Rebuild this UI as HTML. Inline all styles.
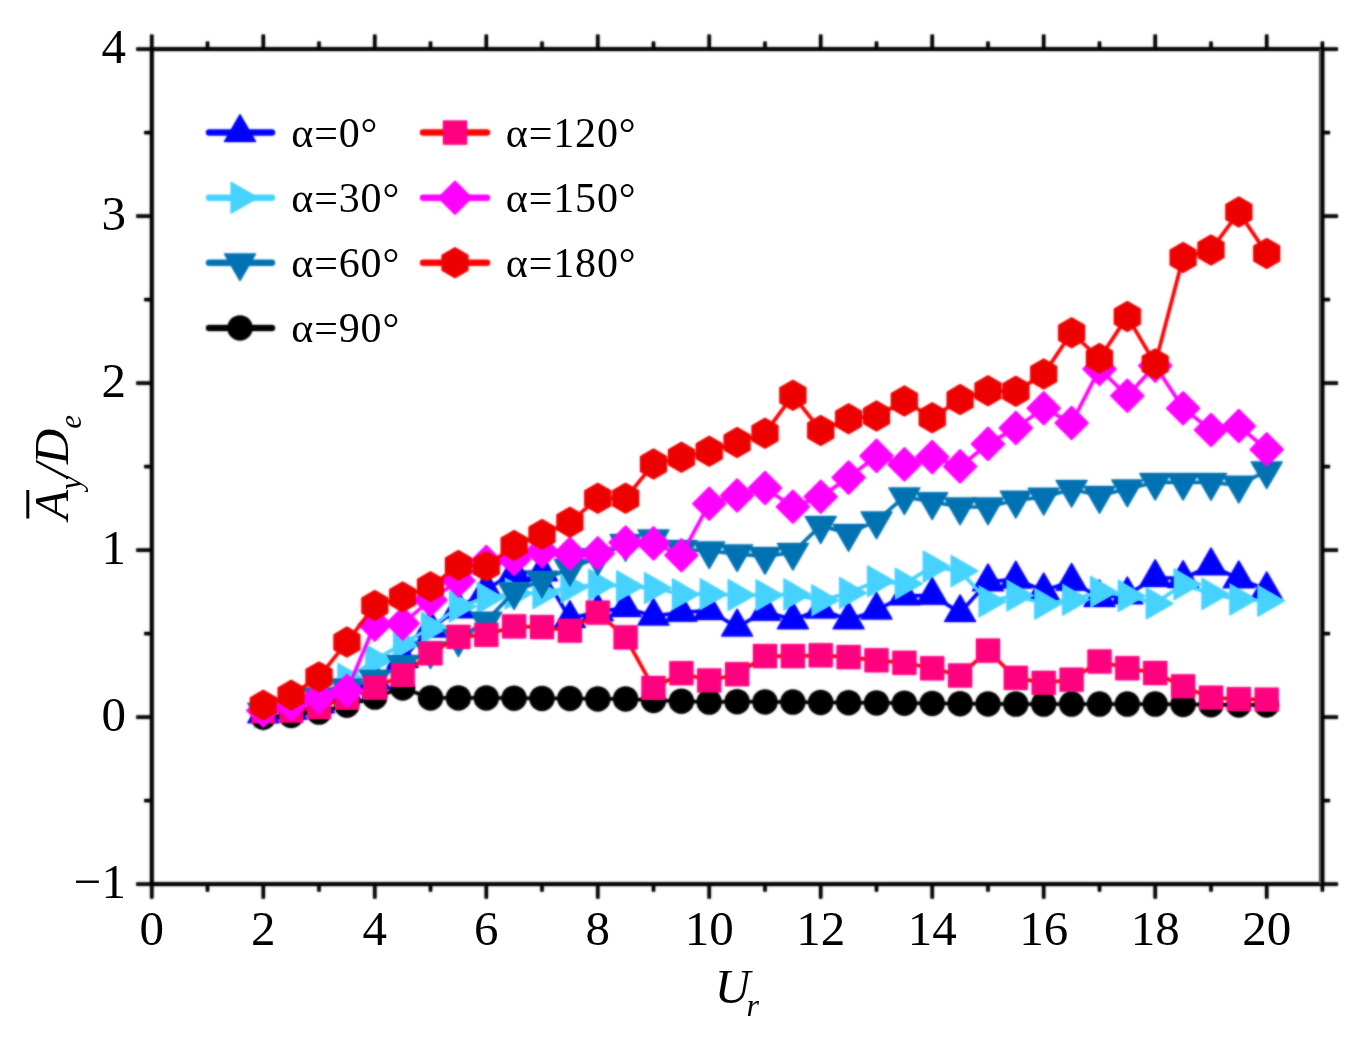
<!DOCTYPE html>
<html lang="en"><head><meta charset="utf-8"><title>Ay/De vs Ur</title>
<style>
html,body{margin:0;padding:0;background:#fff;}
body{width:1361px;height:1045px;overflow:hidden;}
svg{display:block;}
.soft{filter:blur(0.8px);}
</style></head><body>
<svg width="1361" height="1045" viewBox="0 0 1361 1045">
<rect width="1361" height="1045" fill="#fff"/>
<g class="soft">
<g>
<polyline points="263.3,713.8 291.2,710.4 319.0,703.7 346.9,693.7 374.8,680.4 402.7,658.6 430.5,628.1 458.4,608.9 486.3,589.3 514.1,572.6 542.0,571.8 569.9,618.6 597.8,611.9 625.6,607.7 653.5,616.2 681.4,612.4 709.2,610.7 737.1,627.1 765.0,611.4 792.9,619.9 820.7,609.2 848.6,619.9 876.5,610.2 904.4,595.9 932.2,595.4 960.1,612.7 988.0,581.8 1015.8,579.2 1043.7,590.8 1071.6,581.3 1099.5,597.7 1127.3,594.9 1155.2,577.7 1183.1,578.5 1211.0,565.8 1238.8,578.8 1266.7,589.8" fill="none" stroke="#0000FF" stroke-width="3.2" stroke-linejoin="round"/>
<polygon points="263.3,694.9 279.6,723.2 247.0,723.2" fill="#0000FF"/>
<polygon points="291.2,691.6 307.5,719.8 274.9,719.8" fill="#0000FF"/>
<polygon points="319.0,684.9 335.3,713.2 302.7,713.2" fill="#0000FF"/>
<polygon points="346.9,674.9 363.2,703.1 330.6,703.1" fill="#0000FF"/>
<polygon points="374.8,661.5 391.1,689.8 358.5,689.8" fill="#0000FF"/>
<polygon points="402.7,639.8 419.0,668.1 386.4,668.1" fill="#0000FF"/>
<polygon points="430.5,609.3 446.8,637.5 414.2,637.5" fill="#0000FF"/>
<polygon points="458.4,590.1 474.7,618.3 442.1,618.3" fill="#0000FF"/>
<polygon points="486.3,570.5 502.6,598.8 470.0,598.8" fill="#0000FF"/>
<polygon points="514.1,553.8 530.4,582.1 497.8,582.1" fill="#0000FF"/>
<polygon points="542.0,553.0 558.3,581.2 525.7,581.2" fill="#0000FF"/>
<polygon points="569.9,599.7 586.2,628.0 553.6,628.0" fill="#0000FF"/>
<polygon points="597.8,593.1 614.1,621.3 581.5,621.3" fill="#0000FF"/>
<polygon points="625.6,588.9 641.9,617.1 609.3,617.1" fill="#0000FF"/>
<polygon points="653.5,597.4 669.8,625.6 637.2,625.6" fill="#0000FF"/>
<polygon points="681.4,593.6 697.7,621.8 665.1,621.8" fill="#0000FF"/>
<polygon points="709.2,591.9 725.5,620.1 693.0,620.1" fill="#0000FF"/>
<polygon points="737.1,608.3 753.4,636.5 720.8,636.5" fill="#0000FF"/>
<polygon points="765.0,592.6 781.3,620.8 748.7,620.8" fill="#0000FF"/>
<polygon points="792.9,601.1 809.2,629.3 776.6,629.3" fill="#0000FF"/>
<polygon points="820.7,590.4 837.0,618.6 804.4,618.6" fill="#0000FF"/>
<polygon points="848.6,601.1 864.9,629.3 832.3,629.3" fill="#0000FF"/>
<polygon points="876.5,591.4 892.8,619.6 860.2,619.6" fill="#0000FF"/>
<polygon points="904.4,577.0 920.7,605.3 888.1,605.3" fill="#0000FF"/>
<polygon points="932.2,576.5 948.5,604.8 915.9,604.8" fill="#0000FF"/>
<polygon points="960.1,593.9 976.4,622.1 943.8,622.1" fill="#0000FF"/>
<polygon points="988.0,563.0 1004.3,591.2 971.7,591.2" fill="#0000FF"/>
<polygon points="1015.8,560.3 1032.1,588.6 999.5,588.6" fill="#0000FF"/>
<polygon points="1043.7,572.0 1060.0,600.3 1027.4,600.3" fill="#0000FF"/>
<polygon points="1071.6,562.5 1087.9,590.7 1055.3,590.7" fill="#0000FF"/>
<polygon points="1099.5,578.9 1115.8,607.1 1083.2,607.1" fill="#0000FF"/>
<polygon points="1127.3,576.0 1143.6,604.3 1111.0,604.3" fill="#0000FF"/>
<polygon points="1155.2,558.8 1171.5,587.1 1138.9,587.1" fill="#0000FF"/>
<polygon points="1183.1,559.7 1199.4,587.9 1166.8,587.9" fill="#0000FF"/>
<polygon points="1211.0,547.0 1227.3,575.2 1194.7,575.2" fill="#0000FF"/>
<polygon points="1238.8,560.0 1255.1,588.2 1222.5,588.2" fill="#0000FF"/>
<polygon points="1266.7,571.0 1283.0,599.3 1250.4,599.3" fill="#0000FF"/>
</g>
<g>
<polyline points="263.3,712.1 291.2,707.1 319.0,695.4 346.9,679.0 374.8,660.3 402.7,643.6 430.5,627.8 458.4,606.5 486.3,597.7 514.1,593.5 542.0,593.2 569.9,587.3 597.8,584.7 625.6,586.3 653.5,588.0 681.4,594.2 709.2,594.2 737.1,595.0 765.0,595.2 792.9,594.4 820.7,600.4 848.6,593.0 876.5,581.2 904.4,583.8 932.2,566.6 960.1,571.1 988.0,601.4 1015.8,595.5 1043.7,603.7 1071.6,599.7 1099.5,591.9 1127.3,595.9 1155.2,603.4 1183.1,584.3 1211.0,593.9 1238.8,599.4 1266.7,600.7" fill="none" stroke="#46D2FF" stroke-width="3.2" stroke-linejoin="round"/>
<polygon points="282.1,712.1 253.9,695.8 253.9,728.4" fill="#46D2FF"/>
<polygon points="310.0,707.1 281.8,690.8 281.8,723.4" fill="#46D2FF"/>
<polygon points="337.9,695.4 309.6,679.1 309.6,711.7" fill="#46D2FF"/>
<polygon points="365.7,679.0 337.5,662.7 337.5,695.3" fill="#46D2FF"/>
<polygon points="393.6,660.3 365.4,644.0 365.4,676.6" fill="#46D2FF"/>
<polygon points="421.5,643.6 393.2,627.3 393.2,659.9" fill="#46D2FF"/>
<polygon points="449.3,627.8 421.1,611.5 421.1,644.1" fill="#46D2FF"/>
<polygon points="477.2,606.5 449.0,590.2 449.0,622.8" fill="#46D2FF"/>
<polygon points="505.1,597.7 476.9,581.4 476.9,614.0" fill="#46D2FF"/>
<polygon points="533.0,593.5 504.7,577.2 504.7,609.8" fill="#46D2FF"/>
<polygon points="560.8,593.2 532.6,576.9 532.6,609.5" fill="#46D2FF"/>
<polygon points="588.7,587.3 560.5,571.0 560.5,603.6" fill="#46D2FF"/>
<polygon points="616.6,584.7 588.3,568.4 588.3,601.0" fill="#46D2FF"/>
<polygon points="644.5,586.3 616.2,570.0 616.2,602.6" fill="#46D2FF"/>
<polygon points="672.3,588.0 644.1,571.7 644.1,604.3" fill="#46D2FF"/>
<polygon points="700.2,594.2 672.0,577.9 672.0,610.5" fill="#46D2FF"/>
<polygon points="728.1,594.2 699.8,577.9 699.8,610.5" fill="#46D2FF"/>
<polygon points="755.9,595.0 727.7,578.7 727.7,611.3" fill="#46D2FF"/>
<polygon points="783.8,595.2 755.6,578.9 755.6,611.5" fill="#46D2FF"/>
<polygon points="811.7,594.4 783.5,578.1 783.5,610.7" fill="#46D2FF"/>
<polygon points="839.6,600.4 811.3,584.1 811.3,616.7" fill="#46D2FF"/>
<polygon points="867.4,593.0 839.2,576.7 839.2,609.3" fill="#46D2FF"/>
<polygon points="895.3,581.2 867.1,564.9 867.1,597.5" fill="#46D2FF"/>
<polygon points="923.2,583.8 894.9,567.5 894.9,600.1" fill="#46D2FF"/>
<polygon points="951.1,566.6 922.8,550.3 922.8,582.9" fill="#46D2FF"/>
<polygon points="978.9,571.1 950.7,554.8 950.7,587.4" fill="#46D2FF"/>
<polygon points="1006.8,601.4 978.6,585.1 978.6,617.7" fill="#46D2FF"/>
<polygon points="1034.7,595.5 1006.4,579.2 1006.4,611.8" fill="#46D2FF"/>
<polygon points="1062.5,603.7 1034.3,587.4 1034.3,620.0" fill="#46D2FF"/>
<polygon points="1090.4,599.7 1062.2,583.4 1062.2,616.0" fill="#46D2FF"/>
<polygon points="1118.3,591.9 1090.1,575.6 1090.1,608.1" fill="#46D2FF"/>
<polygon points="1146.2,595.9 1117.9,579.6 1117.9,612.2" fill="#46D2FF"/>
<polygon points="1174.0,603.4 1145.8,587.1 1145.8,619.7" fill="#46D2FF"/>
<polygon points="1201.9,584.3 1173.7,568.0 1173.7,600.6" fill="#46D2FF"/>
<polygon points="1229.8,593.9 1201.5,577.6 1201.5,610.2" fill="#46D2FF"/>
<polygon points="1257.6,599.4 1229.4,583.1 1229.4,615.7" fill="#46D2FF"/>
<polygon points="1285.5,600.7 1257.3,584.4 1257.3,617.0" fill="#46D2FF"/>
</g>
<g>
<polyline points="263.3,712.1 291.2,707.1 319.0,697.1 346.9,687.9 374.8,679.2 402.7,664.5 430.5,650.8 458.4,638.6 486.3,621.2 514.1,591.7 542.0,580.2 569.9,568.5 597.8,557.6 625.6,543.4 653.5,538.9 681.4,549.3 709.2,550.8 737.1,553.8 765.0,556.4 792.9,552.3 820.7,525.6 848.6,533.4 876.5,520.9 904.4,496.8 932.2,501.7 960.1,507.0 988.0,506.8 1015.8,500.2 1043.7,497.2 1071.6,489.3 1099.5,495.5 1127.3,489.0 1155.2,482.3 1183.1,482.3 1211.0,482.5 1238.8,485.1 1266.7,470.8" fill="none" stroke="#0072B2" stroke-width="3.2" stroke-linejoin="round"/>
<polygon points="263.3,730.9 279.6,702.7 247.0,702.7" fill="#0072B2"/>
<polygon points="291.2,725.9 307.5,697.7 274.9,697.7" fill="#0072B2"/>
<polygon points="319.0,715.9 335.3,687.6 302.7,687.6" fill="#0072B2"/>
<polygon points="346.9,706.7 363.2,678.5 330.6,678.5" fill="#0072B2"/>
<polygon points="374.8,698.0 391.1,669.8 358.5,669.8" fill="#0072B2"/>
<polygon points="402.7,683.3 419.0,655.1 386.4,655.1" fill="#0072B2"/>
<polygon points="430.5,669.6 446.8,641.4 414.2,641.4" fill="#0072B2"/>
<polygon points="458.4,657.4 474.7,629.2 442.1,629.2" fill="#0072B2"/>
<polygon points="486.3,640.1 502.6,611.8 470.0,611.8" fill="#0072B2"/>
<polygon points="514.1,610.5 530.4,582.3 497.8,582.3" fill="#0072B2"/>
<polygon points="542.0,599.0 558.3,570.7 525.7,570.7" fill="#0072B2"/>
<polygon points="569.9,587.3 586.2,559.1 553.6,559.1" fill="#0072B2"/>
<polygon points="597.8,576.4 614.1,548.2 581.5,548.2" fill="#0072B2"/>
<polygon points="625.6,562.2 641.9,534.0 609.3,534.0" fill="#0072B2"/>
<polygon points="653.5,557.7 669.8,529.5 637.2,529.5" fill="#0072B2"/>
<polygon points="681.4,568.1 697.7,539.9 665.1,539.9" fill="#0072B2"/>
<polygon points="709.2,569.6 725.5,541.4 693.0,541.4" fill="#0072B2"/>
<polygon points="737.1,572.6 753.4,544.4 720.8,544.4" fill="#0072B2"/>
<polygon points="765.0,575.3 781.3,547.0 748.7,547.0" fill="#0072B2"/>
<polygon points="792.9,571.1 809.2,542.9 776.6,542.9" fill="#0072B2"/>
<polygon points="820.7,544.4 837.0,516.1 804.4,516.1" fill="#0072B2"/>
<polygon points="848.6,552.2 864.9,524.0 832.3,524.0" fill="#0072B2"/>
<polygon points="876.5,539.7 892.8,511.5 860.2,511.5" fill="#0072B2"/>
<polygon points="904.4,515.6 920.7,487.4 888.1,487.4" fill="#0072B2"/>
<polygon points="932.2,520.5 948.5,492.3 915.9,492.3" fill="#0072B2"/>
<polygon points="960.1,525.8 976.4,497.6 943.8,497.6" fill="#0072B2"/>
<polygon points="988.0,525.7 1004.3,497.4 971.7,497.4" fill="#0072B2"/>
<polygon points="1015.8,519.0 1032.1,490.8 999.5,490.8" fill="#0072B2"/>
<polygon points="1043.7,516.0 1060.0,487.8 1027.4,487.8" fill="#0072B2"/>
<polygon points="1071.6,508.1 1087.9,479.9 1055.3,479.9" fill="#0072B2"/>
<polygon points="1099.5,514.3 1115.8,486.1 1083.2,486.1" fill="#0072B2"/>
<polygon points="1127.3,507.8 1143.6,479.6 1111.0,479.6" fill="#0072B2"/>
<polygon points="1155.2,501.1 1171.5,472.9 1138.9,472.9" fill="#0072B2"/>
<polygon points="1183.1,501.1 1199.4,472.9 1166.8,472.9" fill="#0072B2"/>
<polygon points="1211.0,501.3 1227.3,473.1 1194.7,473.1" fill="#0072B2"/>
<polygon points="1238.8,504.0 1255.1,475.7 1222.5,475.7" fill="#0072B2"/>
<polygon points="1266.7,489.6 1283.0,461.4 1250.4,461.4" fill="#0072B2"/>
</g>
<g>
<polyline points="263.3,717.1 291.2,715.4 319.0,712.1 346.9,705.2 374.8,697.1 402.7,688.0 430.5,697.9 458.4,697.9 486.3,697.9 514.1,698.2 542.0,698.4 569.9,698.4 597.8,698.9 625.6,698.9 653.5,700.4 681.4,701.2 709.2,702.1 737.1,701.7 765.0,701.9 792.9,702.1 820.7,702.4 848.6,702.7 876.5,702.9 904.4,703.2 932.2,703.4 960.1,703.7 988.0,703.9 1015.8,704.1 1043.7,704.1 1071.6,704.1 1099.5,704.1 1127.3,704.1 1155.2,704.1 1183.1,704.4 1211.0,704.7 1238.8,704.9 1266.7,704.9" fill="none" stroke="#000000" stroke-width="3.2" stroke-linejoin="round"/>
<circle cx="263.3" cy="717.1" r="12.5" fill="#000000"/>
<circle cx="291.2" cy="715.4" r="12.5" fill="#000000"/>
<circle cx="319.0" cy="712.1" r="12.5" fill="#000000"/>
<circle cx="346.9" cy="705.2" r="12.5" fill="#000000"/>
<circle cx="374.8" cy="697.1" r="12.5" fill="#000000"/>
<circle cx="402.7" cy="688.0" r="12.5" fill="#000000"/>
<circle cx="430.5" cy="697.9" r="12.5" fill="#000000"/>
<circle cx="458.4" cy="697.9" r="12.5" fill="#000000"/>
<circle cx="486.3" cy="697.9" r="12.5" fill="#000000"/>
<circle cx="514.1" cy="698.2" r="12.5" fill="#000000"/>
<circle cx="542.0" cy="698.4" r="12.5" fill="#000000"/>
<circle cx="569.9" cy="698.4" r="12.5" fill="#000000"/>
<circle cx="597.8" cy="698.9" r="12.5" fill="#000000"/>
<circle cx="625.6" cy="698.9" r="12.5" fill="#000000"/>
<circle cx="653.5" cy="700.4" r="12.5" fill="#000000"/>
<circle cx="681.4" cy="701.2" r="12.5" fill="#000000"/>
<circle cx="709.2" cy="702.1" r="12.5" fill="#000000"/>
<circle cx="737.1" cy="701.7" r="12.5" fill="#000000"/>
<circle cx="765.0" cy="701.9" r="12.5" fill="#000000"/>
<circle cx="792.9" cy="702.1" r="12.5" fill="#000000"/>
<circle cx="820.7" cy="702.4" r="12.5" fill="#000000"/>
<circle cx="848.6" cy="702.7" r="12.5" fill="#000000"/>
<circle cx="876.5" cy="702.9" r="12.5" fill="#000000"/>
<circle cx="904.4" cy="703.2" r="12.5" fill="#000000"/>
<circle cx="932.2" cy="703.4" r="12.5" fill="#000000"/>
<circle cx="960.1" cy="703.7" r="12.5" fill="#000000"/>
<circle cx="988.0" cy="703.9" r="12.5" fill="#000000"/>
<circle cx="1015.8" cy="704.1" r="12.5" fill="#000000"/>
<circle cx="1043.7" cy="704.1" r="12.5" fill="#000000"/>
<circle cx="1071.6" cy="704.1" r="12.5" fill="#000000"/>
<circle cx="1099.5" cy="704.1" r="12.5" fill="#000000"/>
<circle cx="1127.3" cy="704.1" r="12.5" fill="#000000"/>
<circle cx="1155.2" cy="704.1" r="12.5" fill="#000000"/>
<circle cx="1183.1" cy="704.4" r="12.5" fill="#000000"/>
<circle cx="1211.0" cy="704.7" r="12.5" fill="#000000"/>
<circle cx="1238.8" cy="704.9" r="12.5" fill="#000000"/>
<circle cx="1266.7" cy="704.9" r="12.5" fill="#000000"/>
</g>
<g>
<polyline points="263.3,711.6 291.2,710.8 319.0,707.2 346.9,697.9 374.8,687.9 402.7,675.0 430.5,653.3 458.4,636.9 486.3,634.8 514.1,626.4 542.0,627.1 569.9,630.6 597.8,612.6 625.6,637.4 653.5,688.0 681.4,673.2 709.2,680.5 737.1,674.2 765.0,656.1 792.9,656.1 820.7,655.3 848.6,657.1 876.5,660.3 904.4,662.8 932.2,668.3 960.1,675.5 988.0,650.6 1015.8,677.9 1043.7,682.9 1071.6,679.7 1099.5,661.5 1127.3,668.2 1155.2,673.0 1183.1,686.4 1211.0,697.7 1238.8,699.2 1266.7,699.7" fill="none" stroke="#FF0000" stroke-width="3.2" stroke-linejoin="round"/>
<rect x="251.3" y="699.6" width="24" height="24" fill="#FF007F"/>
<rect x="279.2" y="698.8" width="24" height="24" fill="#FF007F"/>
<rect x="307.0" y="695.2" width="24" height="24" fill="#FF007F"/>
<rect x="334.9" y="685.9" width="24" height="24" fill="#FF007F"/>
<rect x="362.8" y="675.9" width="24" height="24" fill="#FF007F"/>
<rect x="390.7" y="663.0" width="24" height="24" fill="#FF007F"/>
<rect x="418.5" y="641.3" width="24" height="24" fill="#FF007F"/>
<rect x="446.4" y="624.9" width="24" height="24" fill="#FF007F"/>
<rect x="474.3" y="622.8" width="24" height="24" fill="#FF007F"/>
<rect x="502.1" y="614.4" width="24" height="24" fill="#FF007F"/>
<rect x="530.0" y="615.1" width="24" height="24" fill="#FF007F"/>
<rect x="557.9" y="618.6" width="24" height="24" fill="#FF007F"/>
<rect x="585.8" y="600.6" width="24" height="24" fill="#FF007F"/>
<rect x="613.6" y="625.4" width="24" height="24" fill="#FF007F"/>
<rect x="641.5" y="676.0" width="24" height="24" fill="#FF007F"/>
<rect x="669.4" y="661.2" width="24" height="24" fill="#FF007F"/>
<rect x="697.2" y="668.5" width="24" height="24" fill="#FF007F"/>
<rect x="725.1" y="662.2" width="24" height="24" fill="#FF007F"/>
<rect x="753.0" y="644.1" width="24" height="24" fill="#FF007F"/>
<rect x="780.9" y="644.1" width="24" height="24" fill="#FF007F"/>
<rect x="808.7" y="643.3" width="24" height="24" fill="#FF007F"/>
<rect x="836.6" y="645.1" width="24" height="24" fill="#FF007F"/>
<rect x="864.5" y="648.3" width="24" height="24" fill="#FF007F"/>
<rect x="892.4" y="650.8" width="24" height="24" fill="#FF007F"/>
<rect x="920.2" y="656.3" width="24" height="24" fill="#FF007F"/>
<rect x="948.1" y="663.5" width="24" height="24" fill="#FF007F"/>
<rect x="976.0" y="638.6" width="24" height="24" fill="#FF007F"/>
<rect x="1003.8" y="665.9" width="24" height="24" fill="#FF007F"/>
<rect x="1031.7" y="670.9" width="24" height="24" fill="#FF007F"/>
<rect x="1059.6" y="667.7" width="24" height="24" fill="#FF007F"/>
<rect x="1087.5" y="649.5" width="24" height="24" fill="#FF007F"/>
<rect x="1115.3" y="656.2" width="24" height="24" fill="#FF007F"/>
<rect x="1143.2" y="661.0" width="24" height="24" fill="#FF007F"/>
<rect x="1171.1" y="674.4" width="24" height="24" fill="#FF007F"/>
<rect x="1199.0" y="685.7" width="24" height="24" fill="#FF007F"/>
<rect x="1226.8" y="687.2" width="24" height="24" fill="#FF007F"/>
<rect x="1254.7" y="687.7" width="24" height="24" fill="#FF007F"/>
</g>
<g>
<polyline points="263.3,710.6 291.2,704.2 319.0,697.1 346.9,690.7 374.8,624.6 402.7,623.6 430.5,599.9 458.4,580.8 486.3,562.1 514.1,559.3 542.0,551.4 569.9,553.9 597.8,553.4 625.6,542.6 653.5,543.4 681.4,555.3 709.2,503.7 737.1,495.5 765.0,488.0 792.9,506.8 820.7,496.7 848.6,477.6 876.5,455.9 904.4,464.4 932.2,457.1 960.1,466.4 988.0,443.9 1015.8,428.0 1043.7,408.2 1071.6,423.0 1099.5,368.9 1127.3,395.8 1155.2,365.7 1183.1,408.2 1211.0,430.0 1238.8,426.0 1266.7,449.4" fill="none" stroke="#FF00FF" stroke-width="3.2" stroke-linejoin="round"/>
<polygon points="263.3,693.3 280.6,710.6 263.3,727.9 246.0,710.6" fill="#FF00FF"/>
<polygon points="291.2,686.9 308.5,704.2 291.2,721.5 273.9,704.2" fill="#FF00FF"/>
<polygon points="319.0,679.8 336.3,697.1 319.0,714.4 301.7,697.1" fill="#FF00FF"/>
<polygon points="346.9,673.4 364.2,690.7 346.9,708.0 329.6,690.7" fill="#FF00FF"/>
<polygon points="374.8,607.3 392.1,624.6 374.8,641.9 357.5,624.6" fill="#FF00FF"/>
<polygon points="402.7,606.3 420.0,623.6 402.7,640.9 385.4,623.6" fill="#FF00FF"/>
<polygon points="430.5,582.6 447.8,599.9 430.5,617.2 413.2,599.9" fill="#FF00FF"/>
<polygon points="458.4,563.5 475.7,580.8 458.4,598.1 441.1,580.8" fill="#FF00FF"/>
<polygon points="486.3,544.8 503.6,562.1 486.3,579.4 469.0,562.1" fill="#FF00FF"/>
<polygon points="514.1,542.0 531.4,559.3 514.1,576.6 496.8,559.3" fill="#FF00FF"/>
<polygon points="542.0,534.1 559.3,551.4 542.0,568.7 524.7,551.4" fill="#FF00FF"/>
<polygon points="569.9,536.6 587.2,553.9 569.9,571.2 552.6,553.9" fill="#FF00FF"/>
<polygon points="597.8,536.1 615.1,553.4 597.8,570.7 580.5,553.4" fill="#FF00FF"/>
<polygon points="625.6,525.3 642.9,542.6 625.6,559.9 608.3,542.6" fill="#FF00FF"/>
<polygon points="653.5,526.1 670.8,543.4 653.5,560.7 636.2,543.4" fill="#FF00FF"/>
<polygon points="681.4,538.0 698.7,555.3 681.4,572.6 664.1,555.3" fill="#FF00FF"/>
<polygon points="709.2,486.4 726.5,503.7 709.2,521.0 692.0,503.7" fill="#FF00FF"/>
<polygon points="737.1,478.2 754.4,495.5 737.1,512.8 719.8,495.5" fill="#FF00FF"/>
<polygon points="765.0,470.7 782.3,488.0 765.0,505.3 747.7,488.0" fill="#FF00FF"/>
<polygon points="792.9,489.5 810.2,506.8 792.9,524.1 775.6,506.8" fill="#FF00FF"/>
<polygon points="820.7,479.4 838.0,496.7 820.7,514.0 803.4,496.7" fill="#FF00FF"/>
<polygon points="848.6,460.3 865.9,477.6 848.6,494.9 831.3,477.6" fill="#FF00FF"/>
<polygon points="876.5,438.6 893.8,455.9 876.5,473.2 859.2,455.9" fill="#FF00FF"/>
<polygon points="904.4,447.1 921.7,464.4 904.4,481.7 887.1,464.4" fill="#FF00FF"/>
<polygon points="932.2,439.8 949.5,457.1 932.2,474.4 914.9,457.1" fill="#FF00FF"/>
<polygon points="960.1,449.1 977.4,466.4 960.1,483.7 942.8,466.4" fill="#FF00FF"/>
<polygon points="988.0,426.6 1005.3,443.9 988.0,461.2 970.7,443.9" fill="#FF00FF"/>
<polygon points="1015.8,410.7 1033.1,428.0 1015.8,445.3 998.5,428.0" fill="#FF00FF"/>
<polygon points="1043.7,390.9 1061.0,408.2 1043.7,425.5 1026.4,408.2" fill="#FF00FF"/>
<polygon points="1071.6,405.7 1088.9,423.0 1071.6,440.3 1054.3,423.0" fill="#FF00FF"/>
<polygon points="1099.5,351.6 1116.8,368.9 1099.5,386.2 1082.2,368.9" fill="#FF00FF"/>
<polygon points="1127.3,378.5 1144.6,395.8 1127.3,413.1 1110.0,395.8" fill="#FF00FF"/>
<polygon points="1155.2,348.4 1172.5,365.7 1155.2,383.0 1137.9,365.7" fill="#FF00FF"/>
<polygon points="1183.1,390.9 1200.4,408.2 1183.1,425.5 1165.8,408.2" fill="#FF00FF"/>
<polygon points="1211.0,412.7 1228.3,430.0 1211.0,447.3 1193.7,430.0" fill="#FF00FF"/>
<polygon points="1238.8,408.7 1256.1,426.0 1238.8,443.3 1221.5,426.0" fill="#FF00FF"/>
<polygon points="1266.7,432.1 1284.0,449.4 1266.7,466.7 1249.4,449.4" fill="#FF00FF"/>
</g>
<g>
<polyline points="263.3,705.2 291.2,695.2 319.0,676.9 346.9,642.1 374.8,605.5 402.7,597.0 430.5,586.8 458.4,565.5 486.3,566.3 514.1,545.6 542.0,534.4 569.9,522.2 597.8,498.3 625.6,498.2 653.5,464.1 681.4,457.2 709.2,451.2 737.1,442.6 765.0,433.2 792.9,395.3 820.7,430.5 848.6,418.7 876.5,416.0 904.4,401.0 932.2,417.7 960.1,399.6 988.0,390.8 1015.8,391.3 1043.7,374.1 1071.6,332.7 1099.5,358.6 1127.3,316.5 1155.2,363.9 1183.1,257.5 1211.0,250.0 1238.8,212.1 1266.7,253.5" fill="none" stroke="#FF0000" stroke-width="3.2" stroke-linejoin="round"/>
<polygon points="263.3,689.7 276.7,697.5 276.7,713.0 263.3,720.7 249.9,713.0 249.9,697.5" fill="#EE0000"/>
<polygon points="291.2,679.7 304.6,687.5 304.6,703.0 291.2,710.7 277.7,703.0 277.7,687.5" fill="#EE0000"/>
<polygon points="319.0,661.4 332.5,669.1 332.5,684.6 319.0,692.4 305.6,684.6 305.6,669.1" fill="#EE0000"/>
<polygon points="346.9,626.6 360.3,634.4 360.3,649.9 346.9,657.6 333.5,649.9 333.5,634.4" fill="#EE0000"/>
<polygon points="374.8,590.0 388.2,597.8 388.2,613.3 374.8,621.0 361.4,613.3 361.4,597.8" fill="#EE0000"/>
<polygon points="402.7,581.5 416.1,589.3 416.1,604.8 402.7,612.5 389.2,604.8 389.2,589.3" fill="#EE0000"/>
<polygon points="430.5,571.3 443.9,579.1 443.9,594.6 430.5,602.3 417.1,594.6 417.1,579.1" fill="#EE0000"/>
<polygon points="458.4,550.0 471.8,557.7 471.8,573.2 458.4,581.0 445.0,573.2 445.0,557.7" fill="#EE0000"/>
<polygon points="486.3,550.8 499.7,558.5 499.7,574.0 486.3,581.8 472.8,574.0 472.8,558.5" fill="#EE0000"/>
<polygon points="514.1,530.1 527.6,537.8 527.6,553.3 514.1,561.1 500.7,553.3 500.7,537.8" fill="#EE0000"/>
<polygon points="542.0,518.9 555.4,526.7 555.4,542.2 542.0,549.9 528.6,542.2 528.6,526.7" fill="#EE0000"/>
<polygon points="569.9,506.7 583.3,514.5 583.3,530.0 569.9,537.7 556.5,530.0 556.5,514.5" fill="#EE0000"/>
<polygon points="597.8,482.8 611.2,490.6 611.2,506.1 597.8,513.8 584.3,506.1 584.3,490.6" fill="#EE0000"/>
<polygon points="625.6,482.7 639.1,490.4 639.1,505.9 625.6,513.7 612.2,505.9 612.2,490.4" fill="#EE0000"/>
<polygon points="653.5,448.6 666.9,456.3 666.9,471.8 653.5,479.6 640.1,471.8 640.1,456.3" fill="#EE0000"/>
<polygon points="681.4,441.7 694.8,449.5 694.8,465.0 681.4,472.7 668.0,465.0 668.0,449.5" fill="#EE0000"/>
<polygon points="709.2,435.7 722.7,443.5 722.7,459.0 709.2,466.7 695.8,459.0 695.8,443.5" fill="#EE0000"/>
<polygon points="737.1,427.1 750.5,434.8 750.5,450.3 737.1,458.1 723.7,450.3 723.7,434.8" fill="#EE0000"/>
<polygon points="765.0,417.7 778.4,425.5 778.4,441.0 765.0,448.7 751.6,441.0 751.6,425.5" fill="#EE0000"/>
<polygon points="792.9,379.8 806.3,387.5 806.3,403.0 792.9,410.8 779.4,403.0 779.4,387.5" fill="#EE0000"/>
<polygon points="820.7,415.0 834.2,422.8 834.2,438.3 820.7,446.0 807.3,438.3 807.3,422.8" fill="#EE0000"/>
<polygon points="848.6,403.2 862.0,410.9 862.0,426.4 848.6,434.2 835.2,426.4 835.2,410.9" fill="#EE0000"/>
<polygon points="876.5,400.5 889.9,408.2 889.9,423.7 876.5,431.5 863.1,423.7 863.1,408.2" fill="#EE0000"/>
<polygon points="904.4,385.5 917.8,393.2 917.8,408.7 904.4,416.5 890.9,408.7 890.9,393.2" fill="#EE0000"/>
<polygon points="932.2,402.2 945.7,409.9 945.7,425.4 932.2,433.2 918.8,425.4 918.8,409.9" fill="#EE0000"/>
<polygon points="960.1,384.1 973.5,391.9 973.5,407.4 960.1,415.1 946.7,407.4 946.7,391.9" fill="#EE0000"/>
<polygon points="988.0,375.3 1001.4,383.0 1001.4,398.5 988.0,406.3 974.6,398.5 974.6,383.0" fill="#EE0000"/>
<polygon points="1015.8,375.8 1029.3,383.5 1029.3,399.0 1015.8,406.8 1002.4,399.0 1002.4,383.5" fill="#EE0000"/>
<polygon points="1043.7,358.6 1057.1,366.3 1057.1,381.8 1043.7,389.6 1030.3,381.8 1030.3,366.3" fill="#EE0000"/>
<polygon points="1071.6,317.2 1085.0,324.9 1085.0,340.4 1071.6,348.2 1058.2,340.4 1058.2,324.9" fill="#EE0000"/>
<polygon points="1099.5,343.1 1112.9,350.8 1112.9,366.3 1099.5,374.1 1086.0,366.3 1086.0,350.8" fill="#EE0000"/>
<polygon points="1127.3,301.0 1140.8,308.7 1140.8,324.2 1127.3,332.0 1113.9,324.2 1113.9,308.7" fill="#EE0000"/>
<polygon points="1155.2,348.4 1168.6,356.1 1168.6,371.6 1155.2,379.4 1141.8,371.6 1141.8,356.1" fill="#EE0000"/>
<polygon points="1183.1,242.0 1196.5,249.8 1196.5,265.3 1183.1,273.0 1169.7,265.3 1169.7,249.8" fill="#EE0000"/>
<polygon points="1211.0,234.5 1224.4,242.3 1224.4,257.8 1211.0,265.5 1197.5,257.8 1197.5,242.3" fill="#EE0000"/>
<polygon points="1238.8,196.6 1252.3,204.3 1252.3,219.8 1238.8,227.6 1225.4,219.8 1225.4,204.3" fill="#EE0000"/>
<polygon points="1266.7,238.0 1280.1,245.8 1280.1,261.3 1266.7,269.0 1253.3,261.3 1253.3,245.8" fill="#EE0000"/>
</g>
<g stroke="#000" stroke-linecap="butt" fill="none">
<rect x="151.8" y="49.1" width="1170.6" height="835.0" stroke-width="3.7"/>
<line x1="1320.2" y1="49.1" x2="1320.2" y2="884.1" stroke="#4d4d4d" stroke-width="2"/>
<line x1="151.8" y1="884.1" x2="151.8" y2="898.6" stroke-width="3.3"/>
<line x1="151.8" y1="49.1" x2="151.8" y2="34.6" stroke-width="3.3"/>
<line x1="207.5" y1="884.1" x2="207.5" y2="891.6" stroke-width="3.3"/>
<line x1="207.5" y1="49.1" x2="207.5" y2="41.6" stroke-width="3.3"/>
<line x1="263.3" y1="884.1" x2="263.3" y2="898.6" stroke-width="3.3"/>
<line x1="263.3" y1="49.1" x2="263.3" y2="34.6" stroke-width="3.3"/>
<line x1="319.0" y1="884.1" x2="319.0" y2="891.6" stroke-width="3.3"/>
<line x1="319.0" y1="49.1" x2="319.0" y2="41.6" stroke-width="3.3"/>
<line x1="374.8" y1="884.1" x2="374.8" y2="898.6" stroke-width="3.3"/>
<line x1="374.8" y1="49.1" x2="374.8" y2="34.6" stroke-width="3.3"/>
<line x1="430.5" y1="884.1" x2="430.5" y2="891.6" stroke-width="3.3"/>
<line x1="430.5" y1="49.1" x2="430.5" y2="41.6" stroke-width="3.3"/>
<line x1="486.3" y1="884.1" x2="486.3" y2="898.6" stroke-width="3.3"/>
<line x1="486.3" y1="49.1" x2="486.3" y2="34.6" stroke-width="3.3"/>
<line x1="542.0" y1="884.1" x2="542.0" y2="891.6" stroke-width="3.3"/>
<line x1="542.0" y1="49.1" x2="542.0" y2="41.6" stroke-width="3.3"/>
<line x1="597.8" y1="884.1" x2="597.8" y2="898.6" stroke-width="3.3"/>
<line x1="597.8" y1="49.1" x2="597.8" y2="34.6" stroke-width="3.3"/>
<line x1="653.5" y1="884.1" x2="653.5" y2="891.6" stroke-width="3.3"/>
<line x1="653.5" y1="49.1" x2="653.5" y2="41.6" stroke-width="3.3"/>
<line x1="709.2" y1="884.1" x2="709.2" y2="898.6" stroke-width="3.3"/>
<line x1="709.2" y1="49.1" x2="709.2" y2="34.6" stroke-width="3.3"/>
<line x1="765.0" y1="884.1" x2="765.0" y2="891.6" stroke-width="3.3"/>
<line x1="765.0" y1="49.1" x2="765.0" y2="41.6" stroke-width="3.3"/>
<line x1="820.7" y1="884.1" x2="820.7" y2="898.6" stroke-width="3.3"/>
<line x1="820.7" y1="49.1" x2="820.7" y2="34.6" stroke-width="3.3"/>
<line x1="876.5" y1="884.1" x2="876.5" y2="891.6" stroke-width="3.3"/>
<line x1="876.5" y1="49.1" x2="876.5" y2="41.6" stroke-width="3.3"/>
<line x1="932.2" y1="884.1" x2="932.2" y2="898.6" stroke-width="3.3"/>
<line x1="932.2" y1="49.1" x2="932.2" y2="34.6" stroke-width="3.3"/>
<line x1="988.0" y1="884.1" x2="988.0" y2="891.6" stroke-width="3.3"/>
<line x1="988.0" y1="49.1" x2="988.0" y2="41.6" stroke-width="3.3"/>
<line x1="1043.7" y1="884.1" x2="1043.7" y2="898.6" stroke-width="3.3"/>
<line x1="1043.7" y1="49.1" x2="1043.7" y2="34.6" stroke-width="3.3"/>
<line x1="1099.5" y1="884.1" x2="1099.5" y2="891.6" stroke-width="3.3"/>
<line x1="1099.5" y1="49.1" x2="1099.5" y2="41.6" stroke-width="3.3"/>
<line x1="1155.2" y1="884.1" x2="1155.2" y2="898.6" stroke-width="3.3"/>
<line x1="1155.2" y1="49.1" x2="1155.2" y2="34.6" stroke-width="3.3"/>
<line x1="1211.0" y1="884.1" x2="1211.0" y2="891.6" stroke-width="3.3"/>
<line x1="1211.0" y1="49.1" x2="1211.0" y2="41.6" stroke-width="3.3"/>
<line x1="1266.7" y1="884.1" x2="1266.7" y2="898.6" stroke-width="3.3"/>
<line x1="1266.7" y1="49.1" x2="1266.7" y2="34.6" stroke-width="3.3"/>
<line x1="1322.4" y1="884.1" x2="1322.4" y2="891.6" stroke-width="3.3"/>
<line x1="1322.4" y1="49.1" x2="1322.4" y2="41.6" stroke-width="3.3"/>
<line x1="151.8" y1="884.1" x2="136.3" y2="884.1" stroke-width="3.3"/>
<line x1="1322.4" y1="884.1" x2="1337.9" y2="884.1" stroke-width="3.3"/>
<line x1="151.8" y1="800.6" x2="144.3" y2="800.6" stroke-width="3.3"/>
<line x1="1322.4" y1="800.6" x2="1329.9" y2="800.6" stroke-width="3.3"/>
<line x1="151.8" y1="717.1" x2="136.3" y2="717.1" stroke-width="3.3"/>
<line x1="1322.4" y1="717.1" x2="1337.9" y2="717.1" stroke-width="3.3"/>
<line x1="151.8" y1="633.6" x2="144.3" y2="633.6" stroke-width="3.3"/>
<line x1="1322.4" y1="633.6" x2="1329.9" y2="633.6" stroke-width="3.3"/>
<line x1="151.8" y1="550.1" x2="136.3" y2="550.1" stroke-width="3.3"/>
<line x1="1322.4" y1="550.1" x2="1337.9" y2="550.1" stroke-width="3.3"/>
<line x1="151.8" y1="466.6" x2="144.3" y2="466.6" stroke-width="3.3"/>
<line x1="1322.4" y1="466.6" x2="1329.9" y2="466.6" stroke-width="3.3"/>
<line x1="151.8" y1="383.1" x2="136.3" y2="383.1" stroke-width="3.3"/>
<line x1="1322.4" y1="383.1" x2="1337.9" y2="383.1" stroke-width="3.3"/>
<line x1="151.8" y1="299.6" x2="144.3" y2="299.6" stroke-width="3.3"/>
<line x1="1322.4" y1="299.6" x2="1329.9" y2="299.6" stroke-width="3.3"/>
<line x1="151.8" y1="216.1" x2="136.3" y2="216.1" stroke-width="3.3"/>
<line x1="1322.4" y1="216.1" x2="1337.9" y2="216.1" stroke-width="3.3"/>
<line x1="151.8" y1="132.6" x2="144.3" y2="132.6" stroke-width="3.3"/>
<line x1="1322.4" y1="132.6" x2="1329.9" y2="132.6" stroke-width="3.3"/>
<line x1="151.8" y1="49.1" x2="136.3" y2="49.1" stroke-width="3.3"/>
<line x1="1322.4" y1="49.1" x2="1337.9" y2="49.1" stroke-width="3.3"/>
</g>
<g>
<line x1="209" y1="132.6" x2="272" y2="132.6" stroke="#0000FF" stroke-width="6" stroke-linecap="round"/>
<polygon points="240.0,113.8 256.3,142.0 223.7,142.0" fill="#0000FF"/>
<line x1="209" y1="197.7" x2="272" y2="197.7" stroke="#46D2FF" stroke-width="6" stroke-linecap="round"/>
<polygon points="258.8,197.7 230.6,181.4 230.6,214.0" fill="#46D2FF"/>
<line x1="209" y1="262.8" x2="272" y2="262.8" stroke="#0072B2" stroke-width="6" stroke-linecap="round"/>
<polygon points="240.0,281.6 256.3,253.4 223.7,253.4" fill="#0072B2"/>
<line x1="209" y1="327.9" x2="272" y2="327.9" stroke="#000000" stroke-width="6" stroke-linecap="round"/>
<circle cx="240.0" cy="327.9" r="12.5" fill="#000000"/>
<line x1="423" y1="132.6" x2="487" y2="132.6" stroke="#FF0000" stroke-width="6" stroke-linecap="round"/>
<rect x="443.0" y="120.6" width="24" height="24" fill="#FF007F"/>
<line x1="423" y1="197.7" x2="487" y2="197.7" stroke="#FF00FF" stroke-width="6" stroke-linecap="round"/>
<polygon points="455.0,180.4 472.3,197.7 455.0,215.0 437.7,197.7" fill="#FF00FF"/>
<line x1="423" y1="262.8" x2="487" y2="262.8" stroke="#FF0000" stroke-width="6" stroke-linecap="round"/>
<polygon points="455.0,247.3 468.4,255.1 468.4,270.6 455.0,278.3 441.6,270.6 441.6,255.1" fill="#EE0000"/>
</g>
</g>
<g opacity="0.5">
<g>
<polyline points="263.3,713.8 291.2,710.4 319.0,703.7 346.9,693.7 374.8,680.4 402.7,658.6 430.5,628.1 458.4,608.9 486.3,589.3 514.1,572.6 542.0,571.8 569.9,618.6 597.8,611.9 625.6,607.7 653.5,616.2 681.4,612.4 709.2,610.7 737.1,627.1 765.0,611.4 792.9,619.9 820.7,609.2 848.6,619.9 876.5,610.2 904.4,595.9 932.2,595.4 960.1,612.7 988.0,581.8 1015.8,579.2 1043.7,590.8 1071.6,581.3 1099.5,597.7 1127.3,594.9 1155.2,577.7 1183.1,578.5 1211.0,565.8 1238.8,578.8 1266.7,589.8" fill="none" stroke="#0000FF" stroke-width="3.2" stroke-linejoin="round"/>
<polygon points="263.3,694.9 279.6,723.2 247.0,723.2" fill="#0000FF"/>
<polygon points="291.2,691.6 307.5,719.8 274.9,719.8" fill="#0000FF"/>
<polygon points="319.0,684.9 335.3,713.2 302.7,713.2" fill="#0000FF"/>
<polygon points="346.9,674.9 363.2,703.1 330.6,703.1" fill="#0000FF"/>
<polygon points="374.8,661.5 391.1,689.8 358.5,689.8" fill="#0000FF"/>
<polygon points="402.7,639.8 419.0,668.1 386.4,668.1" fill="#0000FF"/>
<polygon points="430.5,609.3 446.8,637.5 414.2,637.5" fill="#0000FF"/>
<polygon points="458.4,590.1 474.7,618.3 442.1,618.3" fill="#0000FF"/>
<polygon points="486.3,570.5 502.6,598.8 470.0,598.8" fill="#0000FF"/>
<polygon points="514.1,553.8 530.4,582.1 497.8,582.1" fill="#0000FF"/>
<polygon points="542.0,553.0 558.3,581.2 525.7,581.2" fill="#0000FF"/>
<polygon points="569.9,599.7 586.2,628.0 553.6,628.0" fill="#0000FF"/>
<polygon points="597.8,593.1 614.1,621.3 581.5,621.3" fill="#0000FF"/>
<polygon points="625.6,588.9 641.9,617.1 609.3,617.1" fill="#0000FF"/>
<polygon points="653.5,597.4 669.8,625.6 637.2,625.6" fill="#0000FF"/>
<polygon points="681.4,593.6 697.7,621.8 665.1,621.8" fill="#0000FF"/>
<polygon points="709.2,591.9 725.5,620.1 693.0,620.1" fill="#0000FF"/>
<polygon points="737.1,608.3 753.4,636.5 720.8,636.5" fill="#0000FF"/>
<polygon points="765.0,592.6 781.3,620.8 748.7,620.8" fill="#0000FF"/>
<polygon points="792.9,601.1 809.2,629.3 776.6,629.3" fill="#0000FF"/>
<polygon points="820.7,590.4 837.0,618.6 804.4,618.6" fill="#0000FF"/>
<polygon points="848.6,601.1 864.9,629.3 832.3,629.3" fill="#0000FF"/>
<polygon points="876.5,591.4 892.8,619.6 860.2,619.6" fill="#0000FF"/>
<polygon points="904.4,577.0 920.7,605.3 888.1,605.3" fill="#0000FF"/>
<polygon points="932.2,576.5 948.5,604.8 915.9,604.8" fill="#0000FF"/>
<polygon points="960.1,593.9 976.4,622.1 943.8,622.1" fill="#0000FF"/>
<polygon points="988.0,563.0 1004.3,591.2 971.7,591.2" fill="#0000FF"/>
<polygon points="1015.8,560.3 1032.1,588.6 999.5,588.6" fill="#0000FF"/>
<polygon points="1043.7,572.0 1060.0,600.3 1027.4,600.3" fill="#0000FF"/>
<polygon points="1071.6,562.5 1087.9,590.7 1055.3,590.7" fill="#0000FF"/>
<polygon points="1099.5,578.9 1115.8,607.1 1083.2,607.1" fill="#0000FF"/>
<polygon points="1127.3,576.0 1143.6,604.3 1111.0,604.3" fill="#0000FF"/>
<polygon points="1155.2,558.8 1171.5,587.1 1138.9,587.1" fill="#0000FF"/>
<polygon points="1183.1,559.7 1199.4,587.9 1166.8,587.9" fill="#0000FF"/>
<polygon points="1211.0,547.0 1227.3,575.2 1194.7,575.2" fill="#0000FF"/>
<polygon points="1238.8,560.0 1255.1,588.2 1222.5,588.2" fill="#0000FF"/>
<polygon points="1266.7,571.0 1283.0,599.3 1250.4,599.3" fill="#0000FF"/>
</g>
<g>
<polyline points="263.3,712.1 291.2,707.1 319.0,695.4 346.9,679.0 374.8,660.3 402.7,643.6 430.5,627.8 458.4,606.5 486.3,597.7 514.1,593.5 542.0,593.2 569.9,587.3 597.8,584.7 625.6,586.3 653.5,588.0 681.4,594.2 709.2,594.2 737.1,595.0 765.0,595.2 792.9,594.4 820.7,600.4 848.6,593.0 876.5,581.2 904.4,583.8 932.2,566.6 960.1,571.1 988.0,601.4 1015.8,595.5 1043.7,603.7 1071.6,599.7 1099.5,591.9 1127.3,595.9 1155.2,603.4 1183.1,584.3 1211.0,593.9 1238.8,599.4 1266.7,600.7" fill="none" stroke="#46D2FF" stroke-width="3.2" stroke-linejoin="round"/>
<polygon points="282.1,712.1 253.9,695.8 253.9,728.4" fill="#46D2FF"/>
<polygon points="310.0,707.1 281.8,690.8 281.8,723.4" fill="#46D2FF"/>
<polygon points="337.9,695.4 309.6,679.1 309.6,711.7" fill="#46D2FF"/>
<polygon points="365.7,679.0 337.5,662.7 337.5,695.3" fill="#46D2FF"/>
<polygon points="393.6,660.3 365.4,644.0 365.4,676.6" fill="#46D2FF"/>
<polygon points="421.5,643.6 393.2,627.3 393.2,659.9" fill="#46D2FF"/>
<polygon points="449.3,627.8 421.1,611.5 421.1,644.1" fill="#46D2FF"/>
<polygon points="477.2,606.5 449.0,590.2 449.0,622.8" fill="#46D2FF"/>
<polygon points="505.1,597.7 476.9,581.4 476.9,614.0" fill="#46D2FF"/>
<polygon points="533.0,593.5 504.7,577.2 504.7,609.8" fill="#46D2FF"/>
<polygon points="560.8,593.2 532.6,576.9 532.6,609.5" fill="#46D2FF"/>
<polygon points="588.7,587.3 560.5,571.0 560.5,603.6" fill="#46D2FF"/>
<polygon points="616.6,584.7 588.3,568.4 588.3,601.0" fill="#46D2FF"/>
<polygon points="644.5,586.3 616.2,570.0 616.2,602.6" fill="#46D2FF"/>
<polygon points="672.3,588.0 644.1,571.7 644.1,604.3" fill="#46D2FF"/>
<polygon points="700.2,594.2 672.0,577.9 672.0,610.5" fill="#46D2FF"/>
<polygon points="728.1,594.2 699.8,577.9 699.8,610.5" fill="#46D2FF"/>
<polygon points="755.9,595.0 727.7,578.7 727.7,611.3" fill="#46D2FF"/>
<polygon points="783.8,595.2 755.6,578.9 755.6,611.5" fill="#46D2FF"/>
<polygon points="811.7,594.4 783.5,578.1 783.5,610.7" fill="#46D2FF"/>
<polygon points="839.6,600.4 811.3,584.1 811.3,616.7" fill="#46D2FF"/>
<polygon points="867.4,593.0 839.2,576.7 839.2,609.3" fill="#46D2FF"/>
<polygon points="895.3,581.2 867.1,564.9 867.1,597.5" fill="#46D2FF"/>
<polygon points="923.2,583.8 894.9,567.5 894.9,600.1" fill="#46D2FF"/>
<polygon points="951.1,566.6 922.8,550.3 922.8,582.9" fill="#46D2FF"/>
<polygon points="978.9,571.1 950.7,554.8 950.7,587.4" fill="#46D2FF"/>
<polygon points="1006.8,601.4 978.6,585.1 978.6,617.7" fill="#46D2FF"/>
<polygon points="1034.7,595.5 1006.4,579.2 1006.4,611.8" fill="#46D2FF"/>
<polygon points="1062.5,603.7 1034.3,587.4 1034.3,620.0" fill="#46D2FF"/>
<polygon points="1090.4,599.7 1062.2,583.4 1062.2,616.0" fill="#46D2FF"/>
<polygon points="1118.3,591.9 1090.1,575.6 1090.1,608.1" fill="#46D2FF"/>
<polygon points="1146.2,595.9 1117.9,579.6 1117.9,612.2" fill="#46D2FF"/>
<polygon points="1174.0,603.4 1145.8,587.1 1145.8,619.7" fill="#46D2FF"/>
<polygon points="1201.9,584.3 1173.7,568.0 1173.7,600.6" fill="#46D2FF"/>
<polygon points="1229.8,593.9 1201.5,577.6 1201.5,610.2" fill="#46D2FF"/>
<polygon points="1257.6,599.4 1229.4,583.1 1229.4,615.7" fill="#46D2FF"/>
<polygon points="1285.5,600.7 1257.3,584.4 1257.3,617.0" fill="#46D2FF"/>
</g>
<g>
<polyline points="263.3,712.1 291.2,707.1 319.0,697.1 346.9,687.9 374.8,679.2 402.7,664.5 430.5,650.8 458.4,638.6 486.3,621.2 514.1,591.7 542.0,580.2 569.9,568.5 597.8,557.6 625.6,543.4 653.5,538.9 681.4,549.3 709.2,550.8 737.1,553.8 765.0,556.4 792.9,552.3 820.7,525.6 848.6,533.4 876.5,520.9 904.4,496.8 932.2,501.7 960.1,507.0 988.0,506.8 1015.8,500.2 1043.7,497.2 1071.6,489.3 1099.5,495.5 1127.3,489.0 1155.2,482.3 1183.1,482.3 1211.0,482.5 1238.8,485.1 1266.7,470.8" fill="none" stroke="#0072B2" stroke-width="3.2" stroke-linejoin="round"/>
<polygon points="263.3,730.9 279.6,702.7 247.0,702.7" fill="#0072B2"/>
<polygon points="291.2,725.9 307.5,697.7 274.9,697.7" fill="#0072B2"/>
<polygon points="319.0,715.9 335.3,687.6 302.7,687.6" fill="#0072B2"/>
<polygon points="346.9,706.7 363.2,678.5 330.6,678.5" fill="#0072B2"/>
<polygon points="374.8,698.0 391.1,669.8 358.5,669.8" fill="#0072B2"/>
<polygon points="402.7,683.3 419.0,655.1 386.4,655.1" fill="#0072B2"/>
<polygon points="430.5,669.6 446.8,641.4 414.2,641.4" fill="#0072B2"/>
<polygon points="458.4,657.4 474.7,629.2 442.1,629.2" fill="#0072B2"/>
<polygon points="486.3,640.1 502.6,611.8 470.0,611.8" fill="#0072B2"/>
<polygon points="514.1,610.5 530.4,582.3 497.8,582.3" fill="#0072B2"/>
<polygon points="542.0,599.0 558.3,570.7 525.7,570.7" fill="#0072B2"/>
<polygon points="569.9,587.3 586.2,559.1 553.6,559.1" fill="#0072B2"/>
<polygon points="597.8,576.4 614.1,548.2 581.5,548.2" fill="#0072B2"/>
<polygon points="625.6,562.2 641.9,534.0 609.3,534.0" fill="#0072B2"/>
<polygon points="653.5,557.7 669.8,529.5 637.2,529.5" fill="#0072B2"/>
<polygon points="681.4,568.1 697.7,539.9 665.1,539.9" fill="#0072B2"/>
<polygon points="709.2,569.6 725.5,541.4 693.0,541.4" fill="#0072B2"/>
<polygon points="737.1,572.6 753.4,544.4 720.8,544.4" fill="#0072B2"/>
<polygon points="765.0,575.3 781.3,547.0 748.7,547.0" fill="#0072B2"/>
<polygon points="792.9,571.1 809.2,542.9 776.6,542.9" fill="#0072B2"/>
<polygon points="820.7,544.4 837.0,516.1 804.4,516.1" fill="#0072B2"/>
<polygon points="848.6,552.2 864.9,524.0 832.3,524.0" fill="#0072B2"/>
<polygon points="876.5,539.7 892.8,511.5 860.2,511.5" fill="#0072B2"/>
<polygon points="904.4,515.6 920.7,487.4 888.1,487.4" fill="#0072B2"/>
<polygon points="932.2,520.5 948.5,492.3 915.9,492.3" fill="#0072B2"/>
<polygon points="960.1,525.8 976.4,497.6 943.8,497.6" fill="#0072B2"/>
<polygon points="988.0,525.7 1004.3,497.4 971.7,497.4" fill="#0072B2"/>
<polygon points="1015.8,519.0 1032.1,490.8 999.5,490.8" fill="#0072B2"/>
<polygon points="1043.7,516.0 1060.0,487.8 1027.4,487.8" fill="#0072B2"/>
<polygon points="1071.6,508.1 1087.9,479.9 1055.3,479.9" fill="#0072B2"/>
<polygon points="1099.5,514.3 1115.8,486.1 1083.2,486.1" fill="#0072B2"/>
<polygon points="1127.3,507.8 1143.6,479.6 1111.0,479.6" fill="#0072B2"/>
<polygon points="1155.2,501.1 1171.5,472.9 1138.9,472.9" fill="#0072B2"/>
<polygon points="1183.1,501.1 1199.4,472.9 1166.8,472.9" fill="#0072B2"/>
<polygon points="1211.0,501.3 1227.3,473.1 1194.7,473.1" fill="#0072B2"/>
<polygon points="1238.8,504.0 1255.1,475.7 1222.5,475.7" fill="#0072B2"/>
<polygon points="1266.7,489.6 1283.0,461.4 1250.4,461.4" fill="#0072B2"/>
</g>
<g>
<polyline points="263.3,717.1 291.2,715.4 319.0,712.1 346.9,705.2 374.8,697.1 402.7,688.0 430.5,697.9 458.4,697.9 486.3,697.9 514.1,698.2 542.0,698.4 569.9,698.4 597.8,698.9 625.6,698.9 653.5,700.4 681.4,701.2 709.2,702.1 737.1,701.7 765.0,701.9 792.9,702.1 820.7,702.4 848.6,702.7 876.5,702.9 904.4,703.2 932.2,703.4 960.1,703.7 988.0,703.9 1015.8,704.1 1043.7,704.1 1071.6,704.1 1099.5,704.1 1127.3,704.1 1155.2,704.1 1183.1,704.4 1211.0,704.7 1238.8,704.9 1266.7,704.9" fill="none" stroke="#000000" stroke-width="3.2" stroke-linejoin="round"/>
<circle cx="263.3" cy="717.1" r="12.5" fill="#000000"/>
<circle cx="291.2" cy="715.4" r="12.5" fill="#000000"/>
<circle cx="319.0" cy="712.1" r="12.5" fill="#000000"/>
<circle cx="346.9" cy="705.2" r="12.5" fill="#000000"/>
<circle cx="374.8" cy="697.1" r="12.5" fill="#000000"/>
<circle cx="402.7" cy="688.0" r="12.5" fill="#000000"/>
<circle cx="430.5" cy="697.9" r="12.5" fill="#000000"/>
<circle cx="458.4" cy="697.9" r="12.5" fill="#000000"/>
<circle cx="486.3" cy="697.9" r="12.5" fill="#000000"/>
<circle cx="514.1" cy="698.2" r="12.5" fill="#000000"/>
<circle cx="542.0" cy="698.4" r="12.5" fill="#000000"/>
<circle cx="569.9" cy="698.4" r="12.5" fill="#000000"/>
<circle cx="597.8" cy="698.9" r="12.5" fill="#000000"/>
<circle cx="625.6" cy="698.9" r="12.5" fill="#000000"/>
<circle cx="653.5" cy="700.4" r="12.5" fill="#000000"/>
<circle cx="681.4" cy="701.2" r="12.5" fill="#000000"/>
<circle cx="709.2" cy="702.1" r="12.5" fill="#000000"/>
<circle cx="737.1" cy="701.7" r="12.5" fill="#000000"/>
<circle cx="765.0" cy="701.9" r="12.5" fill="#000000"/>
<circle cx="792.9" cy="702.1" r="12.5" fill="#000000"/>
<circle cx="820.7" cy="702.4" r="12.5" fill="#000000"/>
<circle cx="848.6" cy="702.7" r="12.5" fill="#000000"/>
<circle cx="876.5" cy="702.9" r="12.5" fill="#000000"/>
<circle cx="904.4" cy="703.2" r="12.5" fill="#000000"/>
<circle cx="932.2" cy="703.4" r="12.5" fill="#000000"/>
<circle cx="960.1" cy="703.7" r="12.5" fill="#000000"/>
<circle cx="988.0" cy="703.9" r="12.5" fill="#000000"/>
<circle cx="1015.8" cy="704.1" r="12.5" fill="#000000"/>
<circle cx="1043.7" cy="704.1" r="12.5" fill="#000000"/>
<circle cx="1071.6" cy="704.1" r="12.5" fill="#000000"/>
<circle cx="1099.5" cy="704.1" r="12.5" fill="#000000"/>
<circle cx="1127.3" cy="704.1" r="12.5" fill="#000000"/>
<circle cx="1155.2" cy="704.1" r="12.5" fill="#000000"/>
<circle cx="1183.1" cy="704.4" r="12.5" fill="#000000"/>
<circle cx="1211.0" cy="704.7" r="12.5" fill="#000000"/>
<circle cx="1238.8" cy="704.9" r="12.5" fill="#000000"/>
<circle cx="1266.7" cy="704.9" r="12.5" fill="#000000"/>
</g>
<g>
<polyline points="263.3,711.6 291.2,710.8 319.0,707.2 346.9,697.9 374.8,687.9 402.7,675.0 430.5,653.3 458.4,636.9 486.3,634.8 514.1,626.4 542.0,627.1 569.9,630.6 597.8,612.6 625.6,637.4 653.5,688.0 681.4,673.2 709.2,680.5 737.1,674.2 765.0,656.1 792.9,656.1 820.7,655.3 848.6,657.1 876.5,660.3 904.4,662.8 932.2,668.3 960.1,675.5 988.0,650.6 1015.8,677.9 1043.7,682.9 1071.6,679.7 1099.5,661.5 1127.3,668.2 1155.2,673.0 1183.1,686.4 1211.0,697.7 1238.8,699.2 1266.7,699.7" fill="none" stroke="#FF0000" stroke-width="3.2" stroke-linejoin="round"/>
<rect x="251.3" y="699.6" width="24" height="24" fill="#FF007F"/>
<rect x="279.2" y="698.8" width="24" height="24" fill="#FF007F"/>
<rect x="307.0" y="695.2" width="24" height="24" fill="#FF007F"/>
<rect x="334.9" y="685.9" width="24" height="24" fill="#FF007F"/>
<rect x="362.8" y="675.9" width="24" height="24" fill="#FF007F"/>
<rect x="390.7" y="663.0" width="24" height="24" fill="#FF007F"/>
<rect x="418.5" y="641.3" width="24" height="24" fill="#FF007F"/>
<rect x="446.4" y="624.9" width="24" height="24" fill="#FF007F"/>
<rect x="474.3" y="622.8" width="24" height="24" fill="#FF007F"/>
<rect x="502.1" y="614.4" width="24" height="24" fill="#FF007F"/>
<rect x="530.0" y="615.1" width="24" height="24" fill="#FF007F"/>
<rect x="557.9" y="618.6" width="24" height="24" fill="#FF007F"/>
<rect x="585.8" y="600.6" width="24" height="24" fill="#FF007F"/>
<rect x="613.6" y="625.4" width="24" height="24" fill="#FF007F"/>
<rect x="641.5" y="676.0" width="24" height="24" fill="#FF007F"/>
<rect x="669.4" y="661.2" width="24" height="24" fill="#FF007F"/>
<rect x="697.2" y="668.5" width="24" height="24" fill="#FF007F"/>
<rect x="725.1" y="662.2" width="24" height="24" fill="#FF007F"/>
<rect x="753.0" y="644.1" width="24" height="24" fill="#FF007F"/>
<rect x="780.9" y="644.1" width="24" height="24" fill="#FF007F"/>
<rect x="808.7" y="643.3" width="24" height="24" fill="#FF007F"/>
<rect x="836.6" y="645.1" width="24" height="24" fill="#FF007F"/>
<rect x="864.5" y="648.3" width="24" height="24" fill="#FF007F"/>
<rect x="892.4" y="650.8" width="24" height="24" fill="#FF007F"/>
<rect x="920.2" y="656.3" width="24" height="24" fill="#FF007F"/>
<rect x="948.1" y="663.5" width="24" height="24" fill="#FF007F"/>
<rect x="976.0" y="638.6" width="24" height="24" fill="#FF007F"/>
<rect x="1003.8" y="665.9" width="24" height="24" fill="#FF007F"/>
<rect x="1031.7" y="670.9" width="24" height="24" fill="#FF007F"/>
<rect x="1059.6" y="667.7" width="24" height="24" fill="#FF007F"/>
<rect x="1087.5" y="649.5" width="24" height="24" fill="#FF007F"/>
<rect x="1115.3" y="656.2" width="24" height="24" fill="#FF007F"/>
<rect x="1143.2" y="661.0" width="24" height="24" fill="#FF007F"/>
<rect x="1171.1" y="674.4" width="24" height="24" fill="#FF007F"/>
<rect x="1199.0" y="685.7" width="24" height="24" fill="#FF007F"/>
<rect x="1226.8" y="687.2" width="24" height="24" fill="#FF007F"/>
<rect x="1254.7" y="687.7" width="24" height="24" fill="#FF007F"/>
</g>
<g>
<polyline points="263.3,710.6 291.2,704.2 319.0,697.1 346.9,690.7 374.8,624.6 402.7,623.6 430.5,599.9 458.4,580.8 486.3,562.1 514.1,559.3 542.0,551.4 569.9,553.9 597.8,553.4 625.6,542.6 653.5,543.4 681.4,555.3 709.2,503.7 737.1,495.5 765.0,488.0 792.9,506.8 820.7,496.7 848.6,477.6 876.5,455.9 904.4,464.4 932.2,457.1 960.1,466.4 988.0,443.9 1015.8,428.0 1043.7,408.2 1071.6,423.0 1099.5,368.9 1127.3,395.8 1155.2,365.7 1183.1,408.2 1211.0,430.0 1238.8,426.0 1266.7,449.4" fill="none" stroke="#FF00FF" stroke-width="3.2" stroke-linejoin="round"/>
<polygon points="263.3,693.3 280.6,710.6 263.3,727.9 246.0,710.6" fill="#FF00FF"/>
<polygon points="291.2,686.9 308.5,704.2 291.2,721.5 273.9,704.2" fill="#FF00FF"/>
<polygon points="319.0,679.8 336.3,697.1 319.0,714.4 301.7,697.1" fill="#FF00FF"/>
<polygon points="346.9,673.4 364.2,690.7 346.9,708.0 329.6,690.7" fill="#FF00FF"/>
<polygon points="374.8,607.3 392.1,624.6 374.8,641.9 357.5,624.6" fill="#FF00FF"/>
<polygon points="402.7,606.3 420.0,623.6 402.7,640.9 385.4,623.6" fill="#FF00FF"/>
<polygon points="430.5,582.6 447.8,599.9 430.5,617.2 413.2,599.9" fill="#FF00FF"/>
<polygon points="458.4,563.5 475.7,580.8 458.4,598.1 441.1,580.8" fill="#FF00FF"/>
<polygon points="486.3,544.8 503.6,562.1 486.3,579.4 469.0,562.1" fill="#FF00FF"/>
<polygon points="514.1,542.0 531.4,559.3 514.1,576.6 496.8,559.3" fill="#FF00FF"/>
<polygon points="542.0,534.1 559.3,551.4 542.0,568.7 524.7,551.4" fill="#FF00FF"/>
<polygon points="569.9,536.6 587.2,553.9 569.9,571.2 552.6,553.9" fill="#FF00FF"/>
<polygon points="597.8,536.1 615.1,553.4 597.8,570.7 580.5,553.4" fill="#FF00FF"/>
<polygon points="625.6,525.3 642.9,542.6 625.6,559.9 608.3,542.6" fill="#FF00FF"/>
<polygon points="653.5,526.1 670.8,543.4 653.5,560.7 636.2,543.4" fill="#FF00FF"/>
<polygon points="681.4,538.0 698.7,555.3 681.4,572.6 664.1,555.3" fill="#FF00FF"/>
<polygon points="709.2,486.4 726.5,503.7 709.2,521.0 692.0,503.7" fill="#FF00FF"/>
<polygon points="737.1,478.2 754.4,495.5 737.1,512.8 719.8,495.5" fill="#FF00FF"/>
<polygon points="765.0,470.7 782.3,488.0 765.0,505.3 747.7,488.0" fill="#FF00FF"/>
<polygon points="792.9,489.5 810.2,506.8 792.9,524.1 775.6,506.8" fill="#FF00FF"/>
<polygon points="820.7,479.4 838.0,496.7 820.7,514.0 803.4,496.7" fill="#FF00FF"/>
<polygon points="848.6,460.3 865.9,477.6 848.6,494.9 831.3,477.6" fill="#FF00FF"/>
<polygon points="876.5,438.6 893.8,455.9 876.5,473.2 859.2,455.9" fill="#FF00FF"/>
<polygon points="904.4,447.1 921.7,464.4 904.4,481.7 887.1,464.4" fill="#FF00FF"/>
<polygon points="932.2,439.8 949.5,457.1 932.2,474.4 914.9,457.1" fill="#FF00FF"/>
<polygon points="960.1,449.1 977.4,466.4 960.1,483.7 942.8,466.4" fill="#FF00FF"/>
<polygon points="988.0,426.6 1005.3,443.9 988.0,461.2 970.7,443.9" fill="#FF00FF"/>
<polygon points="1015.8,410.7 1033.1,428.0 1015.8,445.3 998.5,428.0" fill="#FF00FF"/>
<polygon points="1043.7,390.9 1061.0,408.2 1043.7,425.5 1026.4,408.2" fill="#FF00FF"/>
<polygon points="1071.6,405.7 1088.9,423.0 1071.6,440.3 1054.3,423.0" fill="#FF00FF"/>
<polygon points="1099.5,351.6 1116.8,368.9 1099.5,386.2 1082.2,368.9" fill="#FF00FF"/>
<polygon points="1127.3,378.5 1144.6,395.8 1127.3,413.1 1110.0,395.8" fill="#FF00FF"/>
<polygon points="1155.2,348.4 1172.5,365.7 1155.2,383.0 1137.9,365.7" fill="#FF00FF"/>
<polygon points="1183.1,390.9 1200.4,408.2 1183.1,425.5 1165.8,408.2" fill="#FF00FF"/>
<polygon points="1211.0,412.7 1228.3,430.0 1211.0,447.3 1193.7,430.0" fill="#FF00FF"/>
<polygon points="1238.8,408.7 1256.1,426.0 1238.8,443.3 1221.5,426.0" fill="#FF00FF"/>
<polygon points="1266.7,432.1 1284.0,449.4 1266.7,466.7 1249.4,449.4" fill="#FF00FF"/>
</g>
<g>
<polyline points="263.3,705.2 291.2,695.2 319.0,676.9 346.9,642.1 374.8,605.5 402.7,597.0 430.5,586.8 458.4,565.5 486.3,566.3 514.1,545.6 542.0,534.4 569.9,522.2 597.8,498.3 625.6,498.2 653.5,464.1 681.4,457.2 709.2,451.2 737.1,442.6 765.0,433.2 792.9,395.3 820.7,430.5 848.6,418.7 876.5,416.0 904.4,401.0 932.2,417.7 960.1,399.6 988.0,390.8 1015.8,391.3 1043.7,374.1 1071.6,332.7 1099.5,358.6 1127.3,316.5 1155.2,363.9 1183.1,257.5 1211.0,250.0 1238.8,212.1 1266.7,253.5" fill="none" stroke="#FF0000" stroke-width="3.2" stroke-linejoin="round"/>
<polygon points="263.3,689.7 276.7,697.5 276.7,713.0 263.3,720.7 249.9,713.0 249.9,697.5" fill="#EE0000"/>
<polygon points="291.2,679.7 304.6,687.5 304.6,703.0 291.2,710.7 277.7,703.0 277.7,687.5" fill="#EE0000"/>
<polygon points="319.0,661.4 332.5,669.1 332.5,684.6 319.0,692.4 305.6,684.6 305.6,669.1" fill="#EE0000"/>
<polygon points="346.9,626.6 360.3,634.4 360.3,649.9 346.9,657.6 333.5,649.9 333.5,634.4" fill="#EE0000"/>
<polygon points="374.8,590.0 388.2,597.8 388.2,613.3 374.8,621.0 361.4,613.3 361.4,597.8" fill="#EE0000"/>
<polygon points="402.7,581.5 416.1,589.3 416.1,604.8 402.7,612.5 389.2,604.8 389.2,589.3" fill="#EE0000"/>
<polygon points="430.5,571.3 443.9,579.1 443.9,594.6 430.5,602.3 417.1,594.6 417.1,579.1" fill="#EE0000"/>
<polygon points="458.4,550.0 471.8,557.7 471.8,573.2 458.4,581.0 445.0,573.2 445.0,557.7" fill="#EE0000"/>
<polygon points="486.3,550.8 499.7,558.5 499.7,574.0 486.3,581.8 472.8,574.0 472.8,558.5" fill="#EE0000"/>
<polygon points="514.1,530.1 527.6,537.8 527.6,553.3 514.1,561.1 500.7,553.3 500.7,537.8" fill="#EE0000"/>
<polygon points="542.0,518.9 555.4,526.7 555.4,542.2 542.0,549.9 528.6,542.2 528.6,526.7" fill="#EE0000"/>
<polygon points="569.9,506.7 583.3,514.5 583.3,530.0 569.9,537.7 556.5,530.0 556.5,514.5" fill="#EE0000"/>
<polygon points="597.8,482.8 611.2,490.6 611.2,506.1 597.8,513.8 584.3,506.1 584.3,490.6" fill="#EE0000"/>
<polygon points="625.6,482.7 639.1,490.4 639.1,505.9 625.6,513.7 612.2,505.9 612.2,490.4" fill="#EE0000"/>
<polygon points="653.5,448.6 666.9,456.3 666.9,471.8 653.5,479.6 640.1,471.8 640.1,456.3" fill="#EE0000"/>
<polygon points="681.4,441.7 694.8,449.5 694.8,465.0 681.4,472.7 668.0,465.0 668.0,449.5" fill="#EE0000"/>
<polygon points="709.2,435.7 722.7,443.5 722.7,459.0 709.2,466.7 695.8,459.0 695.8,443.5" fill="#EE0000"/>
<polygon points="737.1,427.1 750.5,434.8 750.5,450.3 737.1,458.1 723.7,450.3 723.7,434.8" fill="#EE0000"/>
<polygon points="765.0,417.7 778.4,425.5 778.4,441.0 765.0,448.7 751.6,441.0 751.6,425.5" fill="#EE0000"/>
<polygon points="792.9,379.8 806.3,387.5 806.3,403.0 792.9,410.8 779.4,403.0 779.4,387.5" fill="#EE0000"/>
<polygon points="820.7,415.0 834.2,422.8 834.2,438.3 820.7,446.0 807.3,438.3 807.3,422.8" fill="#EE0000"/>
<polygon points="848.6,403.2 862.0,410.9 862.0,426.4 848.6,434.2 835.2,426.4 835.2,410.9" fill="#EE0000"/>
<polygon points="876.5,400.5 889.9,408.2 889.9,423.7 876.5,431.5 863.1,423.7 863.1,408.2" fill="#EE0000"/>
<polygon points="904.4,385.5 917.8,393.2 917.8,408.7 904.4,416.5 890.9,408.7 890.9,393.2" fill="#EE0000"/>
<polygon points="932.2,402.2 945.7,409.9 945.7,425.4 932.2,433.2 918.8,425.4 918.8,409.9" fill="#EE0000"/>
<polygon points="960.1,384.1 973.5,391.9 973.5,407.4 960.1,415.1 946.7,407.4 946.7,391.9" fill="#EE0000"/>
<polygon points="988.0,375.3 1001.4,383.0 1001.4,398.5 988.0,406.3 974.6,398.5 974.6,383.0" fill="#EE0000"/>
<polygon points="1015.8,375.8 1029.3,383.5 1029.3,399.0 1015.8,406.8 1002.4,399.0 1002.4,383.5" fill="#EE0000"/>
<polygon points="1043.7,358.6 1057.1,366.3 1057.1,381.8 1043.7,389.6 1030.3,381.8 1030.3,366.3" fill="#EE0000"/>
<polygon points="1071.6,317.2 1085.0,324.9 1085.0,340.4 1071.6,348.2 1058.2,340.4 1058.2,324.9" fill="#EE0000"/>
<polygon points="1099.5,343.1 1112.9,350.8 1112.9,366.3 1099.5,374.1 1086.0,366.3 1086.0,350.8" fill="#EE0000"/>
<polygon points="1127.3,301.0 1140.8,308.7 1140.8,324.2 1127.3,332.0 1113.9,324.2 1113.9,308.7" fill="#EE0000"/>
<polygon points="1155.2,348.4 1168.6,356.1 1168.6,371.6 1155.2,379.4 1141.8,371.6 1141.8,356.1" fill="#EE0000"/>
<polygon points="1183.1,242.0 1196.5,249.8 1196.5,265.3 1183.1,273.0 1169.7,265.3 1169.7,249.8" fill="#EE0000"/>
<polygon points="1211.0,234.5 1224.4,242.3 1224.4,257.8 1211.0,265.5 1197.5,257.8 1197.5,242.3" fill="#EE0000"/>
<polygon points="1238.8,196.6 1252.3,204.3 1252.3,219.8 1238.8,227.6 1225.4,219.8 1225.4,204.3" fill="#EE0000"/>
<polygon points="1266.7,238.0 1280.1,245.8 1280.1,261.3 1266.7,269.0 1253.3,261.3 1253.3,245.8" fill="#EE0000"/>
</g>
<g stroke="#000" stroke-linecap="butt" fill="none">
<rect x="151.8" y="49.1" width="1170.6" height="835.0" stroke-width="3.7"/>
<line x1="1320.2" y1="49.1" x2="1320.2" y2="884.1" stroke="#4d4d4d" stroke-width="2"/>
<line x1="151.8" y1="884.1" x2="151.8" y2="898.6" stroke-width="3.3"/>
<line x1="151.8" y1="49.1" x2="151.8" y2="34.6" stroke-width="3.3"/>
<line x1="207.5" y1="884.1" x2="207.5" y2="891.6" stroke-width="3.3"/>
<line x1="207.5" y1="49.1" x2="207.5" y2="41.6" stroke-width="3.3"/>
<line x1="263.3" y1="884.1" x2="263.3" y2="898.6" stroke-width="3.3"/>
<line x1="263.3" y1="49.1" x2="263.3" y2="34.6" stroke-width="3.3"/>
<line x1="319.0" y1="884.1" x2="319.0" y2="891.6" stroke-width="3.3"/>
<line x1="319.0" y1="49.1" x2="319.0" y2="41.6" stroke-width="3.3"/>
<line x1="374.8" y1="884.1" x2="374.8" y2="898.6" stroke-width="3.3"/>
<line x1="374.8" y1="49.1" x2="374.8" y2="34.6" stroke-width="3.3"/>
<line x1="430.5" y1="884.1" x2="430.5" y2="891.6" stroke-width="3.3"/>
<line x1="430.5" y1="49.1" x2="430.5" y2="41.6" stroke-width="3.3"/>
<line x1="486.3" y1="884.1" x2="486.3" y2="898.6" stroke-width="3.3"/>
<line x1="486.3" y1="49.1" x2="486.3" y2="34.6" stroke-width="3.3"/>
<line x1="542.0" y1="884.1" x2="542.0" y2="891.6" stroke-width="3.3"/>
<line x1="542.0" y1="49.1" x2="542.0" y2="41.6" stroke-width="3.3"/>
<line x1="597.8" y1="884.1" x2="597.8" y2="898.6" stroke-width="3.3"/>
<line x1="597.8" y1="49.1" x2="597.8" y2="34.6" stroke-width="3.3"/>
<line x1="653.5" y1="884.1" x2="653.5" y2="891.6" stroke-width="3.3"/>
<line x1="653.5" y1="49.1" x2="653.5" y2="41.6" stroke-width="3.3"/>
<line x1="709.2" y1="884.1" x2="709.2" y2="898.6" stroke-width="3.3"/>
<line x1="709.2" y1="49.1" x2="709.2" y2="34.6" stroke-width="3.3"/>
<line x1="765.0" y1="884.1" x2="765.0" y2="891.6" stroke-width="3.3"/>
<line x1="765.0" y1="49.1" x2="765.0" y2="41.6" stroke-width="3.3"/>
<line x1="820.7" y1="884.1" x2="820.7" y2="898.6" stroke-width="3.3"/>
<line x1="820.7" y1="49.1" x2="820.7" y2="34.6" stroke-width="3.3"/>
<line x1="876.5" y1="884.1" x2="876.5" y2="891.6" stroke-width="3.3"/>
<line x1="876.5" y1="49.1" x2="876.5" y2="41.6" stroke-width="3.3"/>
<line x1="932.2" y1="884.1" x2="932.2" y2="898.6" stroke-width="3.3"/>
<line x1="932.2" y1="49.1" x2="932.2" y2="34.6" stroke-width="3.3"/>
<line x1="988.0" y1="884.1" x2="988.0" y2="891.6" stroke-width="3.3"/>
<line x1="988.0" y1="49.1" x2="988.0" y2="41.6" stroke-width="3.3"/>
<line x1="1043.7" y1="884.1" x2="1043.7" y2="898.6" stroke-width="3.3"/>
<line x1="1043.7" y1="49.1" x2="1043.7" y2="34.6" stroke-width="3.3"/>
<line x1="1099.5" y1="884.1" x2="1099.5" y2="891.6" stroke-width="3.3"/>
<line x1="1099.5" y1="49.1" x2="1099.5" y2="41.6" stroke-width="3.3"/>
<line x1="1155.2" y1="884.1" x2="1155.2" y2="898.6" stroke-width="3.3"/>
<line x1="1155.2" y1="49.1" x2="1155.2" y2="34.6" stroke-width="3.3"/>
<line x1="1211.0" y1="884.1" x2="1211.0" y2="891.6" stroke-width="3.3"/>
<line x1="1211.0" y1="49.1" x2="1211.0" y2="41.6" stroke-width="3.3"/>
<line x1="1266.7" y1="884.1" x2="1266.7" y2="898.6" stroke-width="3.3"/>
<line x1="1266.7" y1="49.1" x2="1266.7" y2="34.6" stroke-width="3.3"/>
<line x1="1322.4" y1="884.1" x2="1322.4" y2="891.6" stroke-width="3.3"/>
<line x1="1322.4" y1="49.1" x2="1322.4" y2="41.6" stroke-width="3.3"/>
<line x1="151.8" y1="884.1" x2="136.3" y2="884.1" stroke-width="3.3"/>
<line x1="1322.4" y1="884.1" x2="1337.9" y2="884.1" stroke-width="3.3"/>
<line x1="151.8" y1="800.6" x2="144.3" y2="800.6" stroke-width="3.3"/>
<line x1="1322.4" y1="800.6" x2="1329.9" y2="800.6" stroke-width="3.3"/>
<line x1="151.8" y1="717.1" x2="136.3" y2="717.1" stroke-width="3.3"/>
<line x1="1322.4" y1="717.1" x2="1337.9" y2="717.1" stroke-width="3.3"/>
<line x1="151.8" y1="633.6" x2="144.3" y2="633.6" stroke-width="3.3"/>
<line x1="1322.4" y1="633.6" x2="1329.9" y2="633.6" stroke-width="3.3"/>
<line x1="151.8" y1="550.1" x2="136.3" y2="550.1" stroke-width="3.3"/>
<line x1="1322.4" y1="550.1" x2="1337.9" y2="550.1" stroke-width="3.3"/>
<line x1="151.8" y1="466.6" x2="144.3" y2="466.6" stroke-width="3.3"/>
<line x1="1322.4" y1="466.6" x2="1329.9" y2="466.6" stroke-width="3.3"/>
<line x1="151.8" y1="383.1" x2="136.3" y2="383.1" stroke-width="3.3"/>
<line x1="1322.4" y1="383.1" x2="1337.9" y2="383.1" stroke-width="3.3"/>
<line x1="151.8" y1="299.6" x2="144.3" y2="299.6" stroke-width="3.3"/>
<line x1="1322.4" y1="299.6" x2="1329.9" y2="299.6" stroke-width="3.3"/>
<line x1="151.8" y1="216.1" x2="136.3" y2="216.1" stroke-width="3.3"/>
<line x1="1322.4" y1="216.1" x2="1337.9" y2="216.1" stroke-width="3.3"/>
<line x1="151.8" y1="132.6" x2="144.3" y2="132.6" stroke-width="3.3"/>
<line x1="1322.4" y1="132.6" x2="1329.9" y2="132.6" stroke-width="3.3"/>
<line x1="151.8" y1="49.1" x2="136.3" y2="49.1" stroke-width="3.3"/>
<line x1="1322.4" y1="49.1" x2="1337.9" y2="49.1" stroke-width="3.3"/>
</g>
<g>
<line x1="209" y1="132.6" x2="272" y2="132.6" stroke="#0000FF" stroke-width="6" stroke-linecap="round"/>
<polygon points="240.0,113.8 256.3,142.0 223.7,142.0" fill="#0000FF"/>
<line x1="209" y1="197.7" x2="272" y2="197.7" stroke="#46D2FF" stroke-width="6" stroke-linecap="round"/>
<polygon points="258.8,197.7 230.6,181.4 230.6,214.0" fill="#46D2FF"/>
<line x1="209" y1="262.8" x2="272" y2="262.8" stroke="#0072B2" stroke-width="6" stroke-linecap="round"/>
<polygon points="240.0,281.6 256.3,253.4 223.7,253.4" fill="#0072B2"/>
<line x1="209" y1="327.9" x2="272" y2="327.9" stroke="#000000" stroke-width="6" stroke-linecap="round"/>
<circle cx="240.0" cy="327.9" r="12.5" fill="#000000"/>
<line x1="423" y1="132.6" x2="487" y2="132.6" stroke="#FF0000" stroke-width="6" stroke-linecap="round"/>
<rect x="443.0" y="120.6" width="24" height="24" fill="#FF007F"/>
<line x1="423" y1="197.7" x2="487" y2="197.7" stroke="#FF00FF" stroke-width="6" stroke-linecap="round"/>
<polygon points="455.0,180.4 472.3,197.7 455.0,215.0 437.7,197.7" fill="#FF00FF"/>
<line x1="423" y1="262.8" x2="487" y2="262.8" stroke="#FF0000" stroke-width="6" stroke-linecap="round"/>
<polygon points="455.0,247.3 468.4,255.1 468.4,270.6 455.0,278.3 441.6,270.6 441.6,255.1" fill="#EE0000"/>
</g>
</g>
<g font-family="'Liberation Serif', 'Times New Roman', serif" font-size="49" fill="#000">
<text x="151.8" y="945" text-anchor="middle">0</text>
<text x="263.3" y="945" text-anchor="middle">2</text>
<text x="374.8" y="945" text-anchor="middle">4</text>
<text x="486.3" y="945" text-anchor="middle">6</text>
<text x="597.8" y="945" text-anchor="middle">8</text>
<text x="709.2" y="945" text-anchor="middle">10</text>
<text x="820.7" y="945" text-anchor="middle">12</text>
<text x="932.2" y="945" text-anchor="middle">14</text>
<text x="1043.7" y="945" text-anchor="middle">16</text>
<text x="1155.2" y="945" text-anchor="middle">18</text>
<text x="1266.7" y="945" text-anchor="middle">20</text>
<text x="126" y="898.1" text-anchor="end">−1</text>
<text x="126" y="731.1" text-anchor="end">0</text>
<text x="126" y="564.1" text-anchor="end">1</text>
<text x="126" y="397.1" text-anchor="end">2</text>
<text x="126" y="230.1" text-anchor="end">3</text>
<text x="126" y="63.1" text-anchor="end">4</text>
<text x="714.7" y="1003" font-style="italic">U<tspan font-size="32" dy="13" dx="-3.5">r</tspan></text>
<text transform="translate(68,519.8) rotate(-90)" font-style="italic">A<tspan font-size="31" dy="13">y</tspan><tspan dy="-13" dx="-1">/</tspan><tspan dx="-0.7">D</tspan><tspan font-size="31" dy="13">e</tspan></text>
<line x1="27.8" y1="490" x2="27.8" y2="518.5" stroke="#000" stroke-width="3"/>
</g>
<g font-family="'Liberation Serif', 'Times New Roman', serif" font-size="42" fill="#000" letter-spacing="0.85">
<text x="291.3" y="146.8">α=0°</text>
<text x="291.3" y="211.9">α=30°</text>
<text x="291.3" y="277.0">α=60°</text>
<text x="291.3" y="342.1">α=90°</text>
<text x="505.8" y="146.8">α=120°</text>
<text x="505.8" y="211.9">α=150°</text>
<text x="505.8" y="277.0">α=180°</text>
</g>
</svg>
</body></html>
